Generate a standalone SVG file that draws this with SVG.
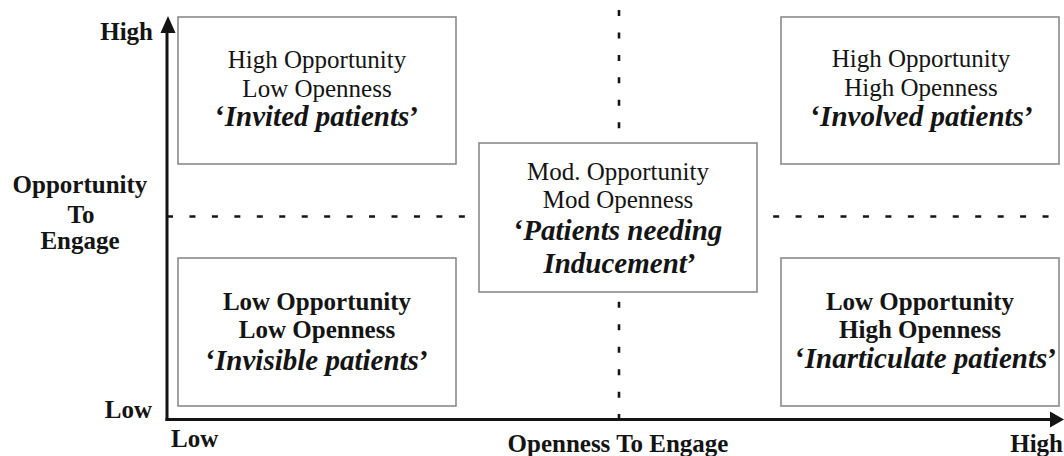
<svg xmlns="http://www.w3.org/2000/svg" width="1064" height="456" viewBox="0 0 1064 456">
  <style>
    .t { fill: #141414; }
    .reg { font-size: 25px; }
    .bold { font-size: 25px; font-weight: bold; }
    .bi { font-size: 29px; font-weight: bold; font-style: italic; }
    .q { font-style: normal; }
    .box { fill: #ffffff; stroke: #8a8a8a; stroke-width: 1.6; }
    .axis { stroke: #141414; stroke-width: 3; fill: none; }
    .dash { stroke: #141414; stroke-width: 2.6; stroke-dasharray: 6 16.45; fill: none; }
    .mid { text-anchor: middle; }
  </style>
  <rect width="1064" height="456" fill="#ffffff"/>

  <g id="connectors">
    <line class="dash" x1="167" y1="216.5" x2="1064" y2="216.5"/>
    <line class="dash" x1="619" y1="10" x2="619" y2="419"/>
    <line class="axis" x1="167" y1="421" x2="167" y2="28"/>
    <polygon points="168,16 160.5,33 175.5,33" fill="#141414"/>
    <line class="axis" x1="165.5" y1="419.5" x2="1052" y2="419.5"/>
    <polygon points="1064,419.5 1050,411.5 1050,427.5" fill="#141414"/>
  </g>

  <g font-family="'Liberation Serif', 'Times New Roman', serif">
  <g id="axis-labels">
    <text class="t bold" x="153" y="40" text-anchor="end">High</text>
    <text class="t bold" x="152" y="418" text-anchor="end">Low</text>
    <text class="t bold mid" x="80" y="193">Opportunity</text>
    <text class="t bold mid" x="81" y="223">To</text>
    <text class="t bold mid" x="80" y="249">Engage</text>
    <text class="t bold" x="171" y="447">Low</text>
    <text class="t bold mid" x="618" y="452">Openness To Engage</text>
    <text class="t bold" x="1063" y="452" text-anchor="end">High</text>
  </g>

  <g id="invited">
    <rect class="box" x="178" y="17" width="278" height="147"/>
    <text class="t reg mid" x="317" y="68">High Opportunity</text>
    <text class="t reg mid" x="317" y="97">Low Openness</text>
    <text class="t bi mid" x="317" y="126"><tspan class="q">‘</tspan>Invited patients<tspan class="q">’</tspan></text>
  </g>

  <g id="involved">
    <rect class="box" x="781" y="17" width="278" height="147"/>
    <text class="t reg mid" x="921" y="67">High Opportunity</text>
    <text class="t reg mid" x="921" y="96">High Openness</text>
    <text class="t bi mid" x="922" y="126"><tspan class="q">‘</tspan>Involved patients<tspan class="q">’</tspan></text>
  </g>

  <g id="inducement">
    <rect class="box" x="479" y="143" width="278" height="149"/>
    <text class="t reg mid" x="618" y="180">Mod. Opportunity</text>
    <text class="t reg mid" x="618" y="208">Mod Openness</text>
    <text class="t bi mid" x="618" y="240"><tspan class="q">‘</tspan>Patients needing</text>
    <text class="t bi mid" x="620" y="273">Inducement<tspan class="q">’</tspan></text>
  </g>

  <g id="invisible">
    <rect class="box" x="178" y="258" width="278" height="148"/>
    <text class="t bold mid" x="317" y="310">Low Opportunity</text>
    <text class="t bold mid" x="317" y="338">Low Openness</text>
    <text class="t bi mid" x="317" y="370"><tspan class="q">‘</tspan>Invisible patients<tspan class="q">’</tspan></text>
  </g>

  <g id="inarticulate">
    <rect class="box" x="781" y="258" width="278" height="148"/>
    <text class="t bold mid" x="920" y="310">Low Opportunity</text>
    <text class="t bold mid" x="920" y="338">High Openness</text>
    <text class="t bi mid" x="926" y="368"><tspan class="q">‘</tspan>Inarticulate patients<tspan class="q">’</tspan></text>
  </g>
  </g>
</svg>
